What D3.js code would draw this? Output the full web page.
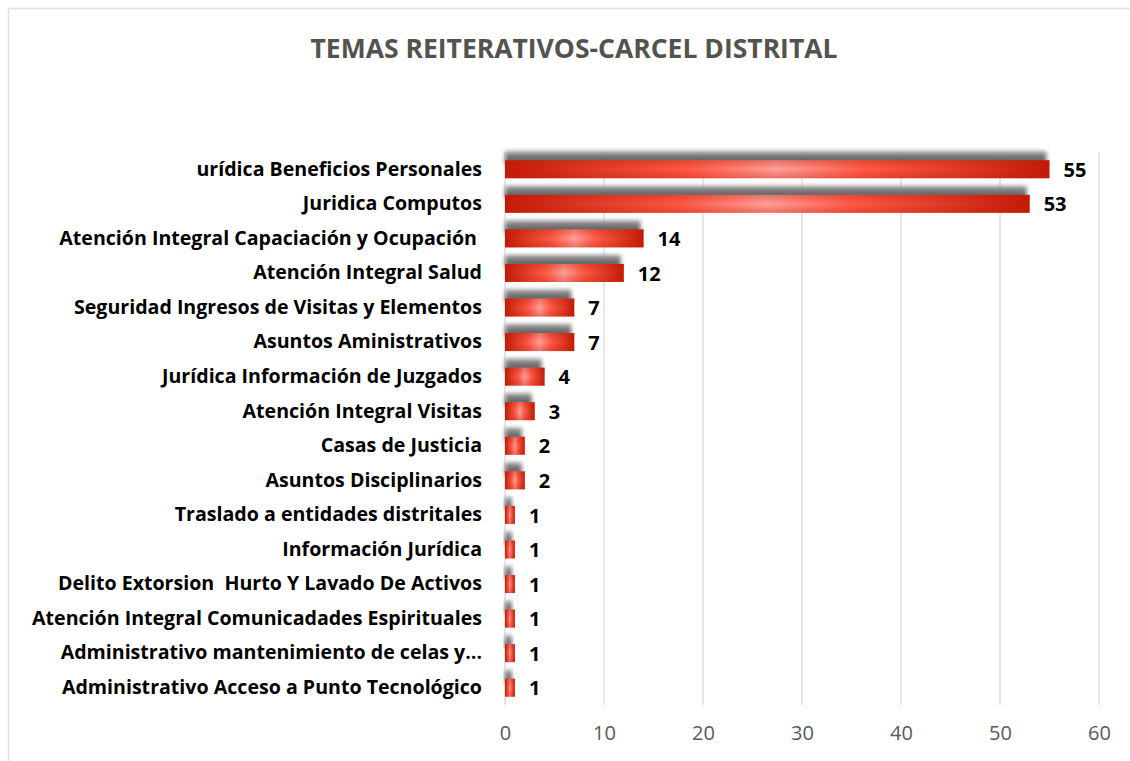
<!DOCTYPE html>
<html lang="es">
<head>
<meta charset="utf-8">
<title>Temas reiterativos</title>
<script src="https://d3js.org/d3.v7.min.js"></script>
<style>
  body { margin: 0; background: #fff; }
  text { font-family: "Open Sans", "Noto Sans", sans-serif; white-space: pre; }
</style>
</head>
<body>
<div id="chart"></div>
<script>
// categories from top to bottom
var categories = [
  "urídica Beneficios Personales",
  "Juridica Computos",
  "Atención Integral Capaciación y Ocupación ",
  "Atención Integral Salud",
  "Seguridad Ingresos de Visitas y Elementos",
  "Asuntos Aministrativos",
  "Jurídica Información de Juzgados",
  "Atención Integral Visitas",
  "Casas de Justicia",
  "Asuntos Disciplinarios",
  "Traslado a entidades distritales",
  "Información Jurídica",
  "Delito Extorsion  Hurto Y Lavado De Activos",
  "Atención Integral Comunicadades Espirituales",
  "Administrativo mantenimiento de celas y…",
  "Administrativo Acceso a Punto Tecnológico"
];
var values = [55, 53, 14, 12, 7, 7, 4, 3, 2, 2, 1, 1, 1, 1, 1, 1];
var xTicks = [0, 10, 20, 30, 40, 50, 60];
var title = "TEMAS REITERATIVOS-CARCEL DISTRITAL";

var W = 1130, H = 761;
var margin = {top: 152, right: 31, bottom: 56, left: 505};

var svg = d3.select("#chart").append("svg")
  .attr("width", W)
  .attr("height", H);

// gradients + shadow blur
var defs = svg.append("defs");
var grad = defs.append("linearGradient")
  .attr("id", "barGrad")
  .attr("x1", 0).attr("y1", 0).attr("x2", 1).attr("y2", 0);
grad.append("stop").attr("offset", "0%").attr("stop-color", "#c21a06");
grad.append("stop").attr("offset", "18%").attr("stop-color", "#e13f29");
grad.append("stop").attr("offset", "34%").attr("stop-color", "#fe5b47");
grad.append("stop").attr("offset", "50%").attr("stop-color", "#ffa09a");
grad.append("stop").attr("offset", "66%").attr("stop-color", "#fe5b47");
grad.append("stop").attr("offset", "82%").attr("stop-color", "#e13f29");
grad.append("stop").attr("offset", "100%").attr("stop-color", "#c21a06");

var edge = defs.append("linearGradient")
  .attr("id", "edgeGrad")
  .attr("x1", 0).attr("y1", 0).attr("x2", 0).attr("y2", 1);
edge.append("stop").attr("offset", "0%").attr("stop-color", "#c21a06").attr("stop-opacity", 0.35);
edge.append("stop").attr("offset", "50%").attr("stop-color", "#c21a06").attr("stop-opacity", 0);
edge.append("stop").attr("offset", "100%").attr("stop-color", "#c21a06").attr("stop-opacity", 0.35);

var shade = defs.append("linearGradient")
  .attr("id", "shadeGrad")
  .attr("x1", 0).attr("y1", 0).attr("x2", 0).attr("y2", 1);
shade.append("stop").attr("offset", "0%").attr("stop-color", "#9a9a9a");
shade.append("stop").attr("offset", "100%").attr("stop-color", "#4a4a4a");

var blur = defs.append("filter").attr("id", "blur")
  .attr("x", "-20%").attr("y", "-50%").attr("width", "140%").attr("height", "200%");
blur.append("feGaussianBlur").attr("stdDeviation", 2);

// chart border
svg.append("rect")
  .attr("x", 8.5).attr("y", 8.5)
  .attr("width", W + 20).attr("height", H + 20)
  .attr("fill", "none")
  .attr("stroke", "#e3e3e0")
  .attr("stroke-width", 1.5);

svg.append("text")
  .attr("x", 574).attr("y", 58)
  .attr("text-anchor", "middle")
  .style("font-size", "26.5px")
  .style("font-weight", "bold")
  .style("fill", "#53534e")
  .text(title);

var x = d3.scaleLinear()
  .domain([0, 60])
  .range([margin.left, W - margin.right]);

var y = d3.scaleBand()
  .domain(categories)
  .range([margin.top, H - margin.bottom])
  .paddingInner(0.48)
  .paddingOuter(0.24);

// gridlines
svg.append("g")
  .selectAll("line")
  .data(xTicks)
  .enter().append("line")
    .attr("x1", function(d) { return x(d); })
    .attr("x2", function(d) { return x(d); })
    .attr("y1", margin.top)
    .attr("y2", H - margin.bottom)
    .attr("stroke", "#dededa")
    .attr("stroke-width", 1.5);

// x tick labels
var xAxis = svg.append("g")
  .attr("transform", "translate(0," + (H - margin.bottom) + ")")
  .call(d3.axisBottom(x).tickValues(xTicks).tickSize(0).tickPadding(21));
xAxis.select(".domain").remove();
xAxis.selectAll("text")
  .style("font-family", "'Open Sans', sans-serif")
  .style("font-size", "20px")
  .style("fill", "#595959");

// y labels
var yAxis = svg.append("g")
  .attr("transform", "translate(" + margin.left + ",0)")
  .call(d3.axisLeft(y).tickSize(0).tickPadding(23));
yAxis.select(".domain").remove();
yAxis.selectAll("text")
  .style("font-family", "'Open Sans', sans-serif")
  .style("font-size", "19.6px")
  .style("font-weight", "bold")
  .style("fill", "#000");

// shadows
svg.append("g")
  .selectAll("rect")
  .data(values)
  .enter().append("rect")
    .attr("x", x(0))
    .attr("y", function(d, i) { return y(categories[i]) - 9; })
    .attr("width", function(d) { return Math.max(0, x(d) - x(0) - 3); })
    .attr("height", y.bandwidth() * 0.7)
    .attr("fill", "url(#shadeGrad)")
    .attr("filter", "url(#blur)");

// bars
var bars = svg.append("g");
bars.selectAll("rect.bar")
  .data(values)
  .enter().append("rect")
    .attr("class", "bar")
    .attr("x", x(0))
    .attr("y", function(d, i) { return y(categories[i]); })
    .attr("width", function(d) { return x(d) - x(0); })
    .attr("height", y.bandwidth())
    .attr("fill", "url(#barGrad)");
bars.selectAll("rect.edge")
  .data(values)
  .enter().append("rect")
    .attr("class", "edge")
    .attr("x", x(0))
    .attr("y", function(d, i) { return y(categories[i]); })
    .attr("width", function(d) { return x(d) - x(0); })
    .attr("height", y.bandwidth())
    .attr("fill", "url(#edgeGrad)");

// value labels
svg.append("g")
  .selectAll("text")
  .data(values)
  .enter().append("text")
    .attr("x", function(d) { return x(d) + 14; })
    .attr("y", function(d, i) { return y(categories[i]) + y.bandwidth() / 2; })
    .attr("dy", "0.38em")
    .style("font-family", "'Open Sans', sans-serif")
    .style("font-size", "20px")
    .style("font-weight", "bold")
    .style("fill", "#000")
    .text(function(d) { return d; });
</script>
</body>
</html>
